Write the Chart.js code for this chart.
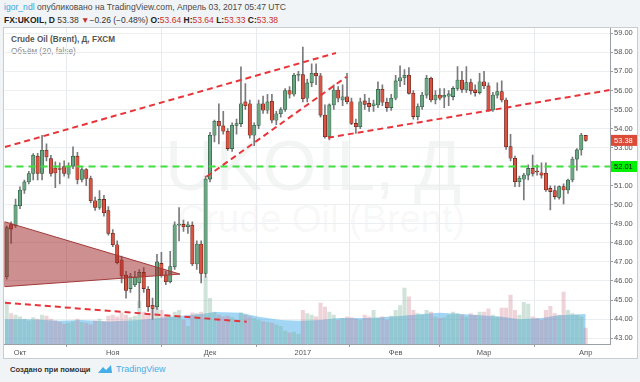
<!DOCTYPE html>
<html>
<head>
<meta charset="utf-8">
<script src="https://cdn.jsdelivr.net/npm/chart.js@4.4.0/dist/chart.umd.min.js"></script>
<style>
  html, body { margin:0; padding:0; width:640px; height:382px; overflow:hidden; background:#f1f4f6;
    font-family:"Liberation Sans", Arial, sans-serif; }
  .abs { position:absolute; white-space:nowrap; }
  #head1 { left:4px; top:2px; font-size:8.6px; color:#4a4a4a; }
  #head1 .user { color:#3ba6dc; }
  #head2 { left:4px; top:15px; font-size:8.5px; color:#333; }
  #head2 b { color:#222; }
  #head2 .dn { color:#c9302c; }
  #frame { left:3px; top:27px; width:633px; height:330px; background:#fff; border:1px solid #c8cdd2; }
  #leg1 { left:11px; top:35px; font-size:8.2px; font-weight:bold; color:#555; }
  #leg2 { left:11px; top:47px; font-size:8.2px; color:#8a8a8a; }
  .wm { color:rgba(40,50,60,0.055); line-height:1; }
  #wm1 { left:165px; top:131px; font-size:70px; }
  #wm2 { left:178px; top:200px; font-size:38px; }
  #foot { left:10px; top:365px; font-size:7.6px; font-weight:bold; color:#333; }
  #foot2 { left:116px; top:364px; font-size:9px; color:#45aee6; }
  #logo { left:97px; top:363px; }
  canvas { position:absolute; left:0; top:0; }
</style>
</head>
<body>
<div class="abs" id="head1"><span class="user">igor_ndl</span> опубликовано на TradingView.com, Апрель 03, 2017 05:47 UTC</div>
<div class="abs" id="head2"><b>FX:UKOIL, D</b> 53.38 <span class="dn">▼</span>−0.26 (−0.48%) <b>O:</b><span class="dn">53.64</span> <b>H:</b><span class="dn">53.64</span> <b>L:</b><span class="dn">53.33</span> <b>C:</b><span class="dn">53.38</span></div>
<div class="abs" id="frame"></div>
<div class="abs wm" id="wm1">UKOIL, Д</div>
<div class="abs wm" id="wm2">Crude Oil (Brent)</div>
<div class="abs" id="leg1">Crude Oil (Brent), Д, FXCM</div>
<div class="abs" id="leg2">Объём (20, false)</div>
<div class="abs" id="foot">Создано при помощи</div>
<svg class="abs" id="logo" width="16" height="12" viewBox="0 0 16 12">
  <path d="M1 10 L6 4 L9 7 L14 2 L15 10 Z" fill="#45aee6"/>
</svg>
<div class="abs" id="foot2">TradingView</div>
<canvas id="chart" width="640" height="382"></canvas>
<script>
// daily candles, 28 Sep 2016 .. 03 Apr 2017 (index = trading day)
const opens = [
  46.22, 48.96, 48.90,
  49.95, 50.77, 51.20, 51.64, 52.55, 51.64, 52.86, 52.42, 51.93, 51.90, 52.00, 51.60, 52.03, 52.55, 51.33, 51.85, 51.38, 50.21, 49.86, 50.28, 49.70,
  48.50, 47.90, 47.10, 46.31, 45.60, 45.80, 45.90, 46.45, 45.56, 44.72, 44.65, 46.92, 46.31, 45.96, 46.75, 48.93, 48.97, 48.85, 48.93, 46.89, 47.94, 46.40,
  51.35, 53.65, 54.38, 54.14, 53.86, 52.95, 54.17, 54.26, 55.40, 55.30, 53.65, 54.17, 55.30, 54.96, 55.43, 54.44, 54.78, 55.00, 56.00, 55.80, 56.80,
  56.83, 55.59, 56.40, 56.90, 56.77, 54.71, 53.57, 55.24, 56.02, 55.50, 55.67, 55.41, 54.27, 54.10, 55.45, 55.32, 55.20, 55.24, 56.06, 55.38, 55.10,
  55.59, 56.50, 56.67, 56.80, 55.85, 54.63, 55.15, 55.76, 56.64, 55.50, 55.76, 55.65, 55.70, 55.68, 56.11, 56.55, 56.03, 56.41, 56.03, 55.89,
  56.46, 56.24, 54.98, 55.76, 55.94, 55.50, 53.05, 52.44, 51.21, 51.34, 51.56, 51.91, 51.75, 51.68, 51.65, 50.86, 50.74, 50.39, 50.95, 50.78, 51.30, 52.40, 52.88, 53.64
];
const highs = [
  48.90, 49.10, 50.30,
  50.94, 51.30, 51.75, 52.69, 52.70, 53.65, 53.20, 52.60, 52.25, 52.20, 52.30, 52.20, 53.04, 52.75, 51.95, 51.90, 51.50, 50.40, 50.75, 50.50, 49.90,
  48.70, 48.10, 47.30, 46.50, 46.40, 46.50, 46.60, 46.70, 45.70, 45.10, 47.40, 47.50, 46.50, 47.55, 49.10, 49.85, 49.20, 49.10, 49.10, 48.10, 48.10, 51.50,
  53.80, 54.45, 55.30, 54.90, 54.00, 54.30, 54.50, 57.24, 56.36, 55.50, 54.30, 55.50, 55.70, 55.80, 55.80, 54.90, 55.10, 56.10, 56.20, 56.90, 57.00,
  58.28, 56.60, 57.40, 57.40, 56.90, 55.25, 55.30, 56.30, 56.20, 56.30, 56.90, 55.60, 54.50, 55.60, 55.80, 55.60, 55.50, 56.45, 56.30, 55.60, 55.80,
  56.80, 57.30, 57.10, 57.20, 56.00, 55.30, 55.90, 56.80, 56.70, 56.00, 56.10, 56.10, 56.00, 56.20, 57.25, 57.00, 57.25, 56.60, 56.30, 56.90,
  57.00, 56.40, 55.90, 56.40, 56.50, 55.60, 53.70, 52.55, 51.50, 51.65, 52.10, 52.61, 52.10, 52.20, 52.20, 51.00, 51.00, 51.00, 51.10, 51.35, 52.50, 52.95, 53.75, 53.64
];
const lows = [
  46.10, 47.97, 48.80,
  49.80, 50.60, 51.10, 51.30, 51.30, 51.30, 52.30, 51.50, 50.90, 51.10, 51.50, 51.40, 51.90, 51.10, 51.20, 51.00, 50.10, 49.70, 49.75, 49.40, 48.40,
  47.80, 46.90, 45.90, 45.10, 45.40, 45.70, 44.60, 45.40, 44.40, 44.00, 44.50, 46.20, 45.80, 45.90, 46.60, 48.10, 48.60, 48.50, 46.80, 46.60, 45.90, 46.20,
  51.20, 53.30, 53.20, 53.70, 52.85, 52.80, 53.70, 54.10, 55.00, 53.50, 53.10, 54.00, 54.80, 54.80, 54.30, 54.20, 54.60, 54.90, 55.60, 55.70, 56.50,
  55.40, 55.40, 56.20, 56.30, 54.60, 53.50, 53.40, 55.00, 55.40, 55.20, 55.30, 54.20, 53.75, 54.00, 55.00, 54.90, 54.90, 55.10, 55.20, 54.90, 54.95,
  55.50, 56.20, 56.30, 55.80, 54.50, 54.45, 55.00, 55.60, 55.40, 55.30, 55.50, 55.10, 55.20, 55.50, 56.00, 55.90, 55.90, 55.80, 55.70, 55.80,
  56.10, 54.90, 54.90, 55.60, 55.40, 52.90, 52.30, 50.95, 50.95, 50.25, 51.30, 51.50, 51.55, 51.40, 50.70, 49.73, 50.30, 50.30, 50.04, 50.60, 51.20, 51.80, 52.60, 53.33
];
const closes = [
  48.80, 48.72, 49.98,
  50.77, 51.20, 51.64, 52.60, 51.64, 52.86, 52.51, 51.64, 51.67, 51.85, 51.64, 52.03, 52.55, 51.33, 51.85, 51.38, 50.21, 49.86, 50.28, 49.58, 48.50,
  47.90, 46.96, 46.26, 45.50, 46.26, 46.20, 46.45, 45.60, 44.65, 44.56, 47.00, 46.31, 45.96, 46.75, 48.95, 48.97, 48.85, 48.95, 46.89, 47.94, 46.40, 51.35,
  53.65, 54.38, 54.14, 53.86, 52.95, 54.17, 54.26, 55.30, 55.20, 53.65, 54.17, 55.30, 54.96, 55.40, 54.44, 54.78, 55.00, 56.00, 55.80, 56.80, 56.83,
  55.57, 56.40, 56.90, 56.77, 54.71, 53.57, 55.24, 56.02, 55.59, 55.67, 55.41, 54.27, 54.10, 55.41, 55.27, 55.15, 55.30, 56.06, 55.38, 55.10, 55.59,
  56.50, 56.67, 56.80, 55.85, 54.63, 55.15, 55.76, 56.64, 55.50, 55.76, 55.59, 55.75, 55.82, 56.11, 56.55, 56.06, 56.41, 55.99, 55.89, 56.46,
  56.24, 54.98, 55.76, 55.94, 55.50, 53.05, 52.44, 51.21, 51.39, 51.56, 51.91, 51.65, 51.72, 51.56, 50.78, 50.69, 50.43, 50.95, 50.78, 51.30, 52.40, 52.88, 53.66, 53.38
];
const volumes = [
  50, 38, 36,
  34, 31, 29, 33, 31, 36, 35, 31, 29, 27, 25, 26, 28, 31, 27, 26, 24, 29, 31, 28, 35,
  36, 34, 39, 36, 33, 35, 53, 40, 37, 44, 48, 42, 36, 34, 40, 42, 30, 22, 39, 38, 40, 84,
  57, 40, 36, 34, 35, 33, 30, 39, 36, 34, 32, 30, 28, 27, 26, 24, 22, 16, 14, 15, 12,
  42, 38, 36, 34, 51, 46, 40, 36, 30, 32, 34, 33, 31, 30, 36, 34, 42, 32, 34, 30, 35,
  42, 48, 70, 59, 42, 38, 36, 42, 40, 34, 32, 33, 36, 40, 38, 36, 34, 38, 36, 40,
  40, 44, 36, 34, 45, 45, 61, 42, 36, 52, 50, 34, 32, 30, 42, 47, 38, 36, 65, 42, 38, 36, 34, 20
];
// volume MA(20), read at a few points
const volMaIdx = [-0.5, 5, 12, 17, 23, 30, 37, 44, 47, 53, 57, 62, 66, 71, 75, 82, 89, 94, 98, 103, 107, 112, 116, 121, 125, 131];
const volMa    = [31, 31, 29, 30, 28, 30, 34, 37.5, 40, 39, 34, 30, 29, 30, 32.5, 32.5, 35, 37.5, 39, 37.5, 36, 34, 31, 32.5, 36, 37.5];

const monthTicks = [3, 24, 46, 67, 88, 108, 131];
const monthNames = ['Окт', 'Ноя', 'Дек', '2017', 'Фев', 'Мар', 'Апр'];
const priceTicks = [43, 44, 45, 46, 47, 48, 49, 50, 51, 52, 53, 54, 55, 56, 57, 58, 59];

// drawings: [index, price] points
const upperLine  = [[-0.4, 53.03], [74.5, 57.97]];
const decLine    = [[45.2, 51.47], [76.9, 56.72]];
const supportLine = [[72.7, 53.52], [136.4, 56.02]];
const bottomLine = [[-0.4, 44.86], [54.3, 43.86]];
const triangle   = [[-0.5, 49.11], [39.2, 46.36], [-0.5, 45.70], [-0.5, 49.11]];
const levelPrice = 52.01;

const upFill = '#6ba583', downFill = '#d75442';
const upLine = '#225437', downLine = '#5b1a13';
const isUp = closes.map((c, i) => c >= opens[i]);
const pts = arr => arr.map(p => ({x: p[0], y: p[1]}));

const dashed = (data, color) => ({
  type: 'line', data: pts(data), borderColor: color, borderWidth: 2,
  borderDash: [6, 4], pointRadius: 0, fill: false, order: 2
});

const priceTags = {
  id: 'priceTags',
  afterDraw(chart) {
    const {ctx, chartArea: a, scales: {y}} = chart;
    const tags = [
      [levelPrice, '#00f000', '#111'],
      [closes[closes.length - 1], '#dc4b38', '#fff']
    ];
    ctx.save();
    ctx.font = '7.5px "Liberation Sans", Arial, sans-serif';
    ctx.textBaseline = 'middle';
    tags.forEach(([v, bg, fg]) => {
      const py = y.getPixelForValue(v);
      ctx.fillStyle = bg;
      ctx.fillRect(a.right + 1, py - 5.5, 26, 11);
      ctx.fillStyle = fg;
      ctx.fillText(v.toFixed(2), a.right + 4, py + 0.5);
    });
    ctx.restore();
  }
};

new Chart(document.getElementById('chart'), {
  data: {
    datasets: [
      {
        type: 'line', yAxisID: 'yv',
        data: volMaIdx.map((x, i) => ({x, y: volMa[i]})),
        borderWidth: 0, pointRadius: 0, fill: 'origin',
        backgroundColor: 'rgba(86,180,235,0.55)', order: 7
      },
      {
        type: 'bar', yAxisID: 'yv',
        data: volumes.map((v, i) => ({x: i, y: v})),
        backgroundColor: isUp.map(u => u ? 'rgba(120,175,150,0.35)' : 'rgba(200,110,130,0.3)'),
        barThickness: 3.4, grouped: false, order: 6
      },
      {
        type: 'bar',
        data: highs.map((h, i) => ({x: i, y: [lows[i], h]})),
        backgroundColor: '#7a7a7c', barThickness: 1, grouped: false, order: 5
      },
      {
        type: 'bar',
        data: opens.map((o, i) => ({x: i, y: [o, closes[i]]})),
        backgroundColor: isUp.map(u => u ? upFill : downFill),
        borderColor: isUp.map(u => u ? upLine : downLine),
        borderWidth: 0.6, borderSkipped: false, minBarLength: 1,
        barThickness: 3.4, grouped: false, order: 4
      },
      dashed(upperLine, '#e8353a'),
      dashed(decLine, '#e8353a'),
      dashed(supportLine, '#e8353a'),
      dashed(bottomLine, '#e8353a'),
      {
        type: 'line', data: [{x: -0.5, y: levelPrice}, {x: 136.5, y: levelPrice}],
        borderColor: '#3ee03e', borderWidth: 2, borderDash: [7, 5],
        pointRadius: 0, fill: false, order: 2
      },
      {
        type: 'line', data: pts(triangle),
        borderColor: '#a33a3a', borderWidth: 1, pointRadius: 0,
        fill: 'shape', backgroundColor: 'rgba(160,40,40,0.52)', order: 1
      }
    ]
  },
  options: {
    responsive: false,
    animation: false,
    events: [],
    layout: { padding: { left: 4.5, right: 3, top: 28, bottom: 24 } },
    plugins: { legend: { display: false }, tooltip: { enabled: false } },
    scales: {
      x: {
        type: 'linear', min: -0.5, max: 136.5, offset: false,
        afterBuildTicks: s => { s.ticks = monthTicks.map(v => ({value: v})); },
        afterFit: s => { s.height = 14; },
        ticks: {
          autoSkip: false, maxRotation: 0, padding: 1, color: '#555',
          font: { size: 7.5, family: '"Liberation Sans", Arial' },
          callback: v => monthNames[monthTicks.indexOf(v)] || ''
        },
        grid: { color: '#e8ebee', tickLength: 3, tickColor: '#9aa0a6' },
        border: { color: '#9aa0a6' }
      },
      y: {
        position: 'right', min: 42.69, max: 59.28,
        afterBuildTicks: s => { s.ticks = priceTicks.map(v => ({value: v})); },
        afterFit: s => { s.width = 27; },
        ticks: {
          padding: 1, color: '#555',
          font: { size: 7.5, family: '"Liberation Sans", Arial' },
          callback: v => v.toFixed(2)
        },
        grid: { color: '#eceff2', tickLength: 3, tickColor: '#9aa0a6' },
        border: { color: '#9aa0a6' }
      },
      yv: { display: false, min: 0, max: 395 }
    }
  },
  plugins: [priceTags]
});
</script>
</body>
</html>
